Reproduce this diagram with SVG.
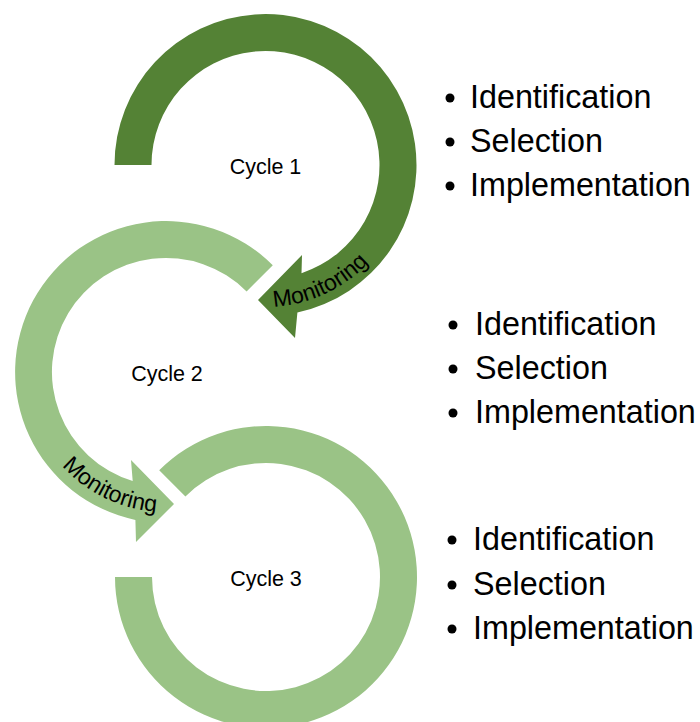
<svg xmlns="http://www.w3.org/2000/svg" xmlns:xlink="http://www.w3.org/1999/xlink" width="700" height="722" viewBox="0 0 700 722">
  <style>
    .dark { fill: #548235; }
    .light { fill: #9AC386; }
    .lbl { font-family: "Liberation Sans", Arial, sans-serif; font-size: 21.5px; fill: #000; text-anchor: middle; }
    .mon { font-family: "Liberation Sans", Arial, sans-serif; font-size: 23px; fill: #000; text-anchor: middle; }
    .item { font-family: "Liberation Sans", Arial, sans-serif; font-size: 32.3px; fill: #000; }
    .dot { fill: #000; }
  </style>
  <defs>
    <path id="mon1path" d="M 216.9 298.4 A 142 142 0 0 0 398.9 213.6"/>
    <path id="mon2path" d="M 33.6 417.6 A 140 140 0 0 0 211.6 504.4"/>
  </defs>
  <rect width="700" height="722" fill="#fff"/>

  <g id="connectors">
    <g id="arrow-cycle3">
      <path class="light" d="M 115 577 A 151 151 0 1 0 159.2 470.2 L 185.4 496.4 A 114 114 0 1 1 152 577 Z"/>
    </g>
    <g id="arrow-cycle2">
      <path class="light" d="M 272.8 265.2 A 151 151 0 1 0 135.4 519.9 L 136 542 L 174 504 L 131 460 L 132.7 481 A 114 114 0 1 1 246.6 291.4 Z"/>
      <text class="mon"><textPath xlink:href="#mon2path" startOffset="50%">Monitoring</textPath></text>
    </g>
    <g id="arrow-cycle1">
      <path class="dark" d="M 114.5 165 A 151 151 0 1 1 297.4 312.6 L 295 338 L 258 300 L 302 255 L 301.5 273.2 A 114 114 0 1 0 151.5 165 Z"/>
      <text class="mon"><textPath xlink:href="#mon1path" startOffset="50%">Monitoring</textPath></text>
    </g>
  </g>

  <g id="cycle1">
    <text class="lbl" x="265.5" y="174">Cycle 1</text>
  </g>
  <g id="cycle2">
    <text class="lbl" x="167" y="381">Cycle 2</text>
  </g>
  <g id="cycle3">
    <text class="lbl" x="266" y="586">Cycle 3</text>
  </g>

  <g id="list1">
    <circle class="dot" cx="450" cy="98" r="4.5"/>
    <circle class="dot" cx="450" cy="142" r="4.5"/>
    <circle class="dot" cx="450" cy="186" r="4.5"/>
    <text class="item" x="470" y="108">Identification</text>
    <text class="item" x="470" y="152">Selection</text>
    <text class="item" x="470" y="196">Implementation</text>
  </g>
  <g id="list2">
    <circle class="dot" cx="453" cy="325" r="4.5"/>
    <circle class="dot" cx="453" cy="369" r="4.5"/>
    <circle class="dot" cx="453" cy="413" r="4.5"/>
    <text class="item" x="475" y="335">Identification</text>
    <text class="item" x="475" y="379">Selection</text>
    <text class="item" x="475" y="423">Implementation</text>
  </g>
  <g id="list3">
    <circle class="dot" cx="452" cy="540" r="4.5"/>
    <circle class="dot" cx="452" cy="585" r="4.5"/>
    <circle class="dot" cx="452" cy="629" r="4.5"/>
    <text class="item" x="473" y="550">Identification</text>
    <text class="item" x="473" y="595">Selection</text>
    <text class="item" x="473" y="639">Implementation</text>
  </g>
</svg>
